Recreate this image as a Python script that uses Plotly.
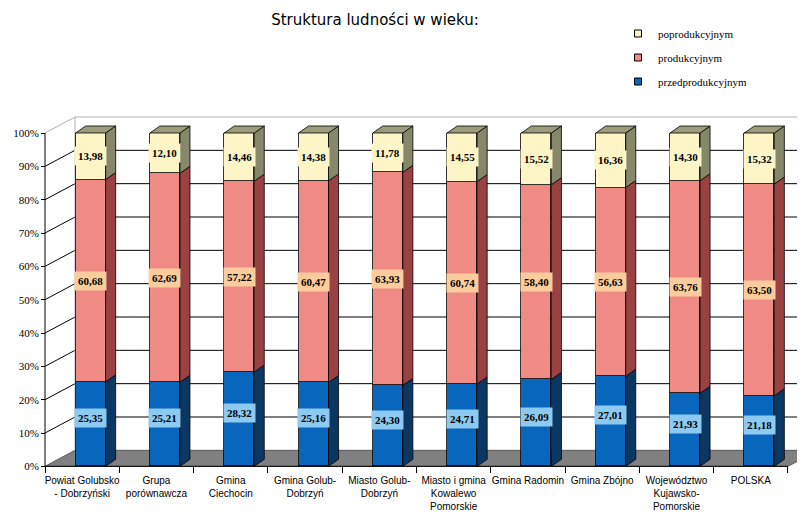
import plotly.graph_objects as go

# ---------------- data ----------------
categories = [
    "Powiat Golubsko<br>- Dobrzyński",
    "Grupa<br>porównawcza",
    "Gmina<br>Ciechocin",
    "Gmina Golub-<br>Dobrzyń",
    "Miasto Golub-<br>Dobrzyń",
    "Miasto i gmina<br>Kowalewo<br>Pomorskie",
    "Gmina Radomin",
    "Gmina Zbójno",
    "Województwo<br>Kujawsko-<br>Pomorskie",
    "POLSKA",
]
przedprodukcyjny = [25.35, 25.21, 28.32, 25.16, 24.30, 24.71, 26.09, 27.01, 21.93, 21.18]
produkcyjny = [60.68, 62.69, 57.22, 60.47, 63.93, 60.74, 58.40, 56.63, 63.76, 63.50]
poprodukcyjny = [13.98, 12.10, 14.46, 14.38, 11.78, 14.55, 15.52, 16.36, 14.30, 15.32]
series_names = ["przedprodukcyjnym", "produkcyjnym", "poprodukcyjnym"]
y_tick_values = [0, 10, 20, 30, 40, 50, 60, 70, 80, 90, 100]
y_tick_labels = [f"{v}%" for v in y_tick_values]
title_text = "Struktura ludności w wieku:"

# ---------------- style ----------------
front_colors = ["#0866bd", "#f08a85", "#fdf5c6"]
side_colors = ["#0b3863", "#9a4242", "#87876a"]
top_color = "#9c9c7c"
label_bg = ["#8ccaf2", "#fdcc9c", "#fdf5c6"]
label_shift = [6, 0, 0]

n = len(categories)
BAR_SHIFT = 0.114      # bar front face offset from category centre (3D projection)
BAR_W = 0.404
DX, DY = 0.135, 2.1    # bar depth
WX, WY = 0.404, 4.8    # back wall offset
X_LO, X_HI = -0.6346, 9.7289
Y_LO, Y_HI = -2, 106

series = [przedprodukcyjny, produkcyjny, poprodukcyjny]
xs = [i + BAR_SHIFT for i in range(n)]

fig = go.Figure()

# front faces
bases = [0.0] * n
seg_bases = []
for k, vals in enumerate(series):
    seg_bases.append(list(bases))
    fig.add_trace(go.Bar(
        x=xs, y=vals, width=BAR_W, name=series_names[k],
        marker=dict(color=front_colors[k], line=dict(color="black", width=0.8)),
        showlegend=False, hoverinfo="skip",
    ))
    bases = [b + v for b, v in zip(bases, vals)]

# side faces
for k, vals in enumerate(series):
    px, py = [], []
    for i in range(n):
        x1 = xs[i] + BAR_W / 2
        b = seg_bases[k][i]
        t = b + vals[i]
        px += [x1, x1 + DX, x1 + DX, x1, x1, None]
        py += [b, b + DY, t + DY, t, b, None]
    fig.add_trace(go.Scatter(
        x=px, y=py, mode="lines", fill="toself", fillcolor=side_colors[k],
        line=dict(color="black", width=0.8), showlegend=False, hoverinfo="skip",
    ))

# top faces
px, py = [], []
for i in range(n):
    x0 = xs[i] - BAR_W / 2
    x1 = xs[i] + BAR_W / 2
    t = bases[i]
    px += [x0, x1, x1 + DX, x0 + DX, x0, None]
    py += [t, t, t + DY, t + DY, t, None]
fig.add_trace(go.Scatter(
    x=px, y=py, mode="lines", fill="toself", fillcolor=top_color,
    line=dict(color="black", width=0.8), showlegend=False, hoverinfo="skip",
))

# legend entries (small squares)
for k in [2, 1, 0]:
    fig.add_trace(go.Scatter(
        x=[None], y=[None], mode="markers", name=series_names[k],
        legendgroup=series_names[k],
        marker=dict(symbol="square", size=7, color=front_colors[k],
                    line=dict(color="black", width=1)),
    ))

# data labels
annotations = []
for k, vals in enumerate(series):
    for i in range(n):
        yc = seg_bases[k][i] + vals[i] / 2
        annotations.append(dict(
            x=xs[i], y=yc, xref="x", yref="y",
            text="<b>" + f"{vals[i]:.2f}".replace(".", ",") + "</b>",
            showarrow=False, bgcolor=label_bg[k], borderpad=3, yshift=label_shift[k],
            font=dict(family="Liberation Serif, Times New Roman, serif", size=11, color="black"),
        ))

# 3D walls / floor / axis lines (decoration)
shapes = []
shapes.append(dict(type="path", xref="x", yref="y", layer="below",
                   path=f"M -0.5,0 L {n - 0.5},0 L {n - 0.5 + WX},{WY} L {-0.5 + WX},{WY} Z",
                   fillcolor="#808080", line=dict(color="#5a5a5a", width=1)))
for v in y_tick_values[1:]:
    col = "#b0b0b0" if v == 100 else "black"
    shapes.append(dict(type="path", xref="x", yref="y", layer="below",
                       path=f"M -0.5,{v} L {-0.5 + WX},{v + WY} L {X_HI + 0.1},{v + WY}",
                       line=dict(color=col, width=1)))
shapes.append(dict(type="line", xref="x", yref="y", layer="below",
                   x0=-0.5 + WX, x1=-0.5 + WX, y0=WY, y1=100 + WY,
                   line=dict(color="#b0b0b0", width=1)))
shapes.append(dict(type="line", xref="x", yref="y", layer="above",
                   x0=-0.5, x1=-0.5, y0=0, y1=100, line=dict(color="black", width=1)))
shapes.append(dict(type="line", xref="x", yref="y", layer="above",
                   x0=-0.5, x1=n - 0.5, y0=0, y1=0, line=dict(color="black", width=1)))

fig.update_layout(
    width=805, height=517,
    margin=dict(l=27, r=8, t=105, b=52, autoexpand=False),
    paper_bgcolor="white", plot_bgcolor="white",
    barmode="stack", bargap=0,
    title=dict(text=title_text, x=367 / 805, xref="container", xanchor="center",
               y=1 - 12 / 517, yref="container", yanchor="middle",
               font=dict(family="DejaVu Sans, sans-serif", size=15, color="black")),
    legend=dict(x=(618 - 35) / 770, y=1 + (113 - 19) / 360, xanchor="left", yanchor="top",
                traceorder="grouped", tracegroupgap=5, bgcolor="rgba(0,0,0,0)",
                font=dict(family="Liberation Serif, Times New Roman, serif", size=11, color="black")),
    xaxis=dict(range=[X_LO, X_HI], tickmode="array", tickvals=list(range(n)), ticktext=categories,
               ticks="", showline=False, showgrid=False, zeroline=False, automargin=False,
               tickangle=0,
               anchor="free", position=(0 - Y_LO) / (Y_HI - Y_LO), ticklabelstandoff=7,
               tickfont=dict(family="Liberation Sans, Arial, sans-serif", size=10, color="black"),
               minor=dict(tickmode="array", tickvals=[i - 0.5 for i in range(n + 1)],
                          ticks="outside", ticklen=6, tickcolor="black", tickwidth=1, showgrid=False)),
    yaxis=dict(range=[Y_LO, Y_HI], tickmode="array", tickvals=y_tick_values, ticktext=y_tick_labels,
               ticks="outside", ticklen=4, tickcolor="black", showline=False, showgrid=False,
               zeroline=False, anchor="free", position=10 / 770, automargin=False,
               tickfont=dict(family="Liberation Serif, Times New Roman, serif", size=11, color="black")),
    annotations=annotations,
    shapes=shapes,
)

fig.write_html("out.html", config={"displayModeBar": False})
